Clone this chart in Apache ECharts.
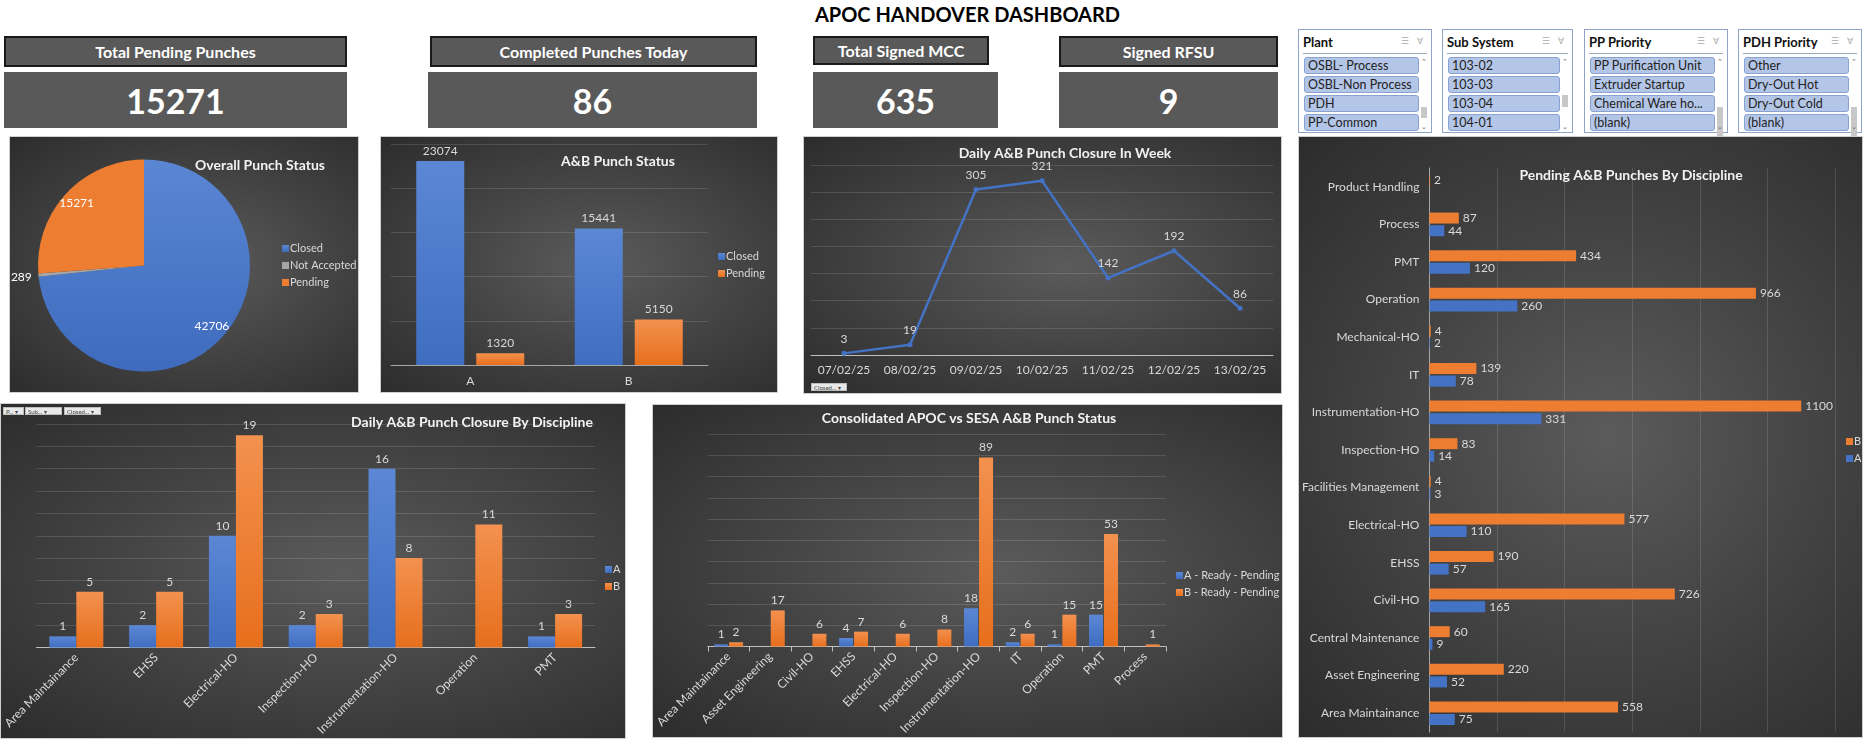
<!DOCTYPE html>
<html>
<head>
<meta charset="utf-8" />
<title>APOC HANDOVER DASHBOARD</title>
<script src="https://cdn.jsdelivr.net/npm/echarts@6/dist/echarts.min.js"></script>
<style>
	html, body {
		margin: 0;
		padding: 0;
		background: #fff;
		width: 1873px;
		height: 741px;
		overflow: hidden;
		font-family: Lato, "Open Sans", sans-serif;
	}
	.abs { position: absolute; box-sizing: border-box; }
	.head {
		background: #595959;
		border: 2px solid #1a1a1a;
		color: #fff;
		font-weight: bold;
		font-size: 16px;
		display: flex;
		align-items: center;
		justify-content: center;
	}
	.val {
		background: #595959;
		color: #fff;
		font-weight: bold;
		font-size: 34px;
		display: flex;
		align-items: center;
		justify-content: center;
	}
	.panel {
		position: absolute;
		box-sizing: border-box;
		background: radial-gradient(ellipse at 55% 50%, #5b5b5b 0%, #454545 45%, #2c2c2c 100%);
		border: 1px solid #cfcfcf;
	}
	.slicer {
		position: absolute;
		box-sizing: border-box;
		border: 1px solid #8ea4c4;
		background: #fff;
	}
	.slicer .ttl {
		position: absolute; left: 4px; top: 4px;
		font-weight: bold; font-size: 13px; color: #111;
	}
	.slicer .ico {
		position: absolute; right: 5px; top: 5px;
		font-size: 9px; color: #aaa; letter-spacing: 3px;
	}
	.slicer .sep {
		position: absolute; left: 4px; right: 4px; top: 23px; height: 1px; background: #9aa8bc;
	}
	.slicer .item {
		position: absolute; left: 5px; height: 17px;
		background: #b4c6e7; border: 1px solid #8aa2cf; border-radius: 3px;
		font-size: 12.5px; color: #222; line-height: 15px; padding-left: 3px;
		box-sizing: border-box; white-space: nowrap; overflow: hidden;
	}
	.slicer .bar {
		position: absolute; right: 3px; top: 27px; width: 8px; height: 74px;
		font-size: 7px; color: #666; text-align: center;
	}
	.slicer .thumb { position: absolute; left: 1px; width: 6px; background: #c8c8c8; }
	.btn {
		position: absolute; height: 8px; background: #e8e8e8; border: 1px solid #bdbdbd;
		font-size: 6px; line-height: 7px; color: #444; padding-left: 2px; box-sizing: border-box;
	}
</style>
</head>
<body>
<div class="abs" style="left:0;top:2px;width:1935px;text-align:center;font-weight:bold;font-size:20px;color:#000;">APOC HANDOVER DASHBOARD</div>

<div id="kpis"></div>
<div id="slicers"></div>

<div class="panel" id="pie" style="left:9px;top:136px;width:350px;height:257px;"></div>
<div class="panel" id="ab" style="left:380px;top:136px;width:398px;height:257px;"></div>
<div class="panel" id="week" style="left:803px;top:136px;width:479px;height:258px;"></div>
<div class="panel" id="pend" style="left:1298px;top:136px;width:565px;height:602px;"></div>
<div class="panel" id="daily" style="left:0px;top:403px;width:626px;height:336px;"></div>
<div class="panel" id="cons" style="left:652px;top:404px;width:631px;height:334px;"></div>

<div class="btn" style="left:811px;top:383px;width:36px;">Closed... ▾</div>
<div class="btn" style="left:3px;top:407px;width:21px;">P... ▾</div>
<div class="btn" style="left:25px;top:407px;width:37px;">Sub... ▾</div>
<div class="btn" style="left:64px;top:407px;width:37px;">Closed... ▾</div>

<script>
// ---- data ----
var kpiLabels = ['Total Pending Punches', 'Completed Punches Today', 'Total Signed MCC', 'Signed RFSU'];
var kpiValues = [15271, 86, 635, 9];

var slicerTitles = ['Plant', 'Sub System', 'PP Priority', 'PDH Priority'];
var plantItems = ['OSBL- Process', 'OSBL-Non Process', 'PDH', 'PP-Common'];
var subSystemItems = ['103-02', '103-03', '103-04', '104-01'];
var ppPriorityItems = ['PP Purification Unit', 'Extruder Startup', 'Chemical Ware ho...', '(blank)'];
var pdhPriorityItems = ['Other', 'Dry-Out Hot', 'Dry-Out Cold', '(blank)'];

var pieNames = ['Closed', 'Not Accepted', 'Pending'];
var pieValues = [42706, 289, 15271];

var abCats = ['A', 'B'];
var abClosed = [23074, 15441];
var abPending = [1320, 5150];

var weekDays = ['07/02/25', '08/02/25', '09/02/25', '10/02/25', '11/02/25', '12/02/25', '13/02/25'];
var weekClosed = [3, 19, 305, 321, 142, 192, 86];

var pendCats = ['Area Maintainance', 'Asset Engineering', 'Central Maintenance', 'Civil-HO', 'EHSS',
	'Electrical-HO', 'Facilities Management', 'Inspection-HO', 'Instrumentation-HO', 'IT',
	'Mechanical-HO', 'Operation', 'PMT', 'Process', 'Product Handling'];
var pendA = [75, 52, 9, 165, 57, 110, 3, 14, 331, 78, 2, 260, 120, 44, null];
var pendB = [558, 220, 60, 726, 190, 577, 4, 83, 1100, 139, 4, 966, 434, 87, 2];

var dailyCats = ['Area Maintainance', 'EHSS', 'Electrical-HO', 'Inspection-HO', 'Instrumentation-HO', 'Operation', 'PMT'];
var dailyA = [1, 2, 10, 2, 16, null, 1];
var dailyB = [5, 5, 19, 3, 8, 11, 3];

var consCats = ['Area Maintainance', 'Asset Engineering', 'Civil-HO', 'EHSS', 'Electrical-HO', 'Inspection-HO',
	'Instrumentation-HO', 'IT', 'Operation', 'PMT', 'Process'];
var consA = [1, null, null, 4, null, null, 18, 2, 1, 15, null];
var consB = [2, 17, 6, 7, 6, 8, 89, 6, 15, 53, 1];

// ---- kpi cards ----
var kpiBoxes = [
	{ h: [4, 343, 31], v: [4, 343] },
	{ h: [430, 327, 31], v: [428, 329] },
	{ h: [813, 176, 29], v: [813, 185] },
	{ h: [1059, 219, 31], v: [1059, 219] }
];
var kpiHtml = '';
kpiBoxes.forEach(function (b, i) {
	kpiHtml += '<div class="abs head" style="left:' + b.h[0] + 'px;top:36px;width:' + b.h[1] + 'px;height:' + b.h[2] + 'px;">' + kpiLabels[i] + '</div>';
	kpiHtml += '<div class="abs val" style="left:' + b.v[0] + 'px;top:72px;width:' + b.v[1] + 'px;height:56px;">' + kpiValues[i] + '</div>';
});
document.getElementById('kpis').innerHTML = kpiHtml;

// ---- slicers ----
var slicerBoxes = [[1298, 134, 77, 11], [1442, 131, 65, 12], [1584, 144, 77, 30], [1738, 124, 77, 31]];
var slicerItems = [plantItems, subSystemItems, ppPriorityItems, pdhPriorityItems];
var sHtml = '';
slicerBoxes.forEach(function (b, i) {
	sHtml += '<div class="slicer" style="left:' + b[0] + 'px;top:29px;width:' + b[1] + 'px;height:104px;">';
	sHtml += '<div class="ttl">' + slicerTitles[i] + '</div><div class="ico">&#9776; &#8704;</div><div class="sep"></div>';
	slicerItems[i].forEach(function (t, j) {
		sHtml += '<div class="item" style="top:' + (27 + j * 19) + 'px;width:' + (b[1] - 19) + 'px;">' + t + '</div>';
	});
	sHtml += '<div class="bar"><div style="position:absolute;top:0;width:8px;">&#8963;</div>' +
		'<div class="thumb" style="top:' + (b[2] - 77 + 50) + 'px;height:' + b[3] + 'px;"></div>' +
		'<div style="position:absolute;bottom:0;width:8px;">&#8964;</div></div>';
	sHtml += '</div>';
});
document.getElementById('slicers').innerHTML = sHtml;

// ---- shared styles ----
var FONT = 'Lato, "Open Sans", sans-serif';
var LBL = '#d9d9d9';
var GRIDLINE = { lineStyle: { color: 'rgba(255,255,255,0.13)', width: 1 } };
var BLUE = new echarts.graphic.LinearGradient(0, 0, 0, 1, [{ offset: 0, color: '#5b87d5' }, { offset: 1, color: '#3f6dc0' }]);
var ORANGE = new echarts.graphic.LinearGradient(0, 0, 0, 1, [{ offset: 0, color: '#f3914f' }, { offset: 1, color: '#e76f1c' }]);

function titleText(text, x, y) {
	return {
		type: 'text', x: x, y: y, silent: true,
		style: { text: text, fill: '#f2f2f2', font: 'bold 14px ' + FONT, textAlign: 'center', textVerticalAlign: 'middle' }
	};
}
function legendAt(left, top, names, gap) {
	return {
		orient: 'vertical', left: left, top: top, data: names, icon: 'rect',
		itemWidth: 7, itemHeight: 7, itemGap: gap, padding: 0,
		textStyle: { color: LBL, fontSize: 11, fontFamily: FONT, padding: [0, 0, 0, -4] }
	};
}
function barLabel(pos) {
	return { show: true, position: pos, color: LBL, fontSize: 12, fontFamily: FONT, distance: 4 };
}

// ---- Overall Punch Status ----
var pieCx = 134, pieCy = 128.5;
var pieLabelPush = [1.63, 2.2, 1.64];
var pieChart = echarts.init(document.getElementById('pie'));
pieChart.setOption({
	textStyle: { fontFamily: FONT },
	graphic: [titleText('Overall Punch Status', 250, 28)],
	legend: legendAt(272, 106, pieNames, 6),
	color: [new echarts.graphic.LinearGradient(0, 0, 0, 1, [{ offset: 0, color: '#5a86d4' }, { offset: 1, color: '#3e6bbd' }]), '#a5a5a5', '#ed7d31'],
	series: [{
		type: 'pie',
		center: [pieCx, pieCy],
		radius: 106,
		startAngle: 90,
		label: { show: true, position: 'inside', color: '#fff', fontSize: 12, fontFamily: FONT },
		labelLine: { show: false },
		labelLayout: function (p) {
			var k = pieLabelPush[p.dataIndex];
			var cx = p.labelRect.x + p.labelRect.width / 2;
			var cy = p.labelRect.y + p.labelRect.height / 2;
			return { dx: (cx - pieCx) * (k - 1), dy: (cy - pieCy) * (k - 1) };
		},
		emphasis: { disabled: true },
		data: pieNames.map(function (n, i) { return { name: n, value: pieValues[i], label: { formatter: '{c}' } }; })
	}]
});

// ---- A&B Punch Status ----
var abChart = echarts.init(document.getElementById('ab'));
abChart.setOption({
	textStyle: { fontFamily: FONT },
	graphic: [titleText('A&B Punch Status', 237, 24)],
	legend: legendAt(337, 114, ['Closed', 'Pending'], 6),
	grid: { left: 10, top: 7, width: 317, bottom: 27 },
	xAxis: {
		type: 'category', data: abCats,
		axisLine: { lineStyle: { color: '#a6a6a6' } }, axisTick: { show: false },
		axisLabel: { color: LBL, fontSize: 12, margin: 10 }
	},
	yAxis: { type: 'value', min: 0, max: 25000, interval: 5000, axisLabel: { show: false }, axisLine: { show: false }, splitLine: GRIDLINE },
	series: [
		{ name: 'Closed', type: 'bar', data: abClosed, barWidth: 48, barGap: '25%', itemStyle: { color: BLUE }, label: barLabel('top') },
		{ name: 'Pending', type: 'bar', data: abPending, barWidth: 48, itemStyle: { color: ORANGE }, label: barLabel('top') }
	]
});

// ---- Daily A&B Punch Closure In Week ----
var weekChart = echarts.init(document.getElementById('week'));
weekChart.setOption({
	textStyle: { fontFamily: FONT },
	graphic: [titleText('Daily A&B Punch Closure In Week', 261, 16)],
	grid: { left: 7, top: 28, width: 462, bottom: 38 },
	xAxis: {
		type: 'category', data: weekDays,
		axisLine: { lineStyle: { color: '#bfbfbf' } }, axisTick: { show: false },
		axisLabel: { color: LBL, fontSize: 12, margin: 9, interval: 0 }
	},
	yAxis: { type: 'value', min: 0, max: 350, interval: 50, axisLabel: { show: false }, splitLine: GRIDLINE },
	series: [{
		type: 'line', data: weekClosed, symbol: 'circle', symbolSize: 5,
		lineStyle: { color: '#4472c4', width: 2.5 }, itemStyle: { color: '#4472c4' },
		label: { show: true, position: 'top', color: LBL, fontSize: 12, distance: 6 }
	}]
});

// ---- Pending A&B Punches By Discipline ----
// in a horizontal bar chart the first series sits on top, so B goes first
var pendChart = echarts.init(document.getElementById('pend'));
pendChart.setOption({
	textStyle: { fontFamily: FONT },
	graphic: [titleText('Pending A&B Punches By Discipline', 332, 38)],
	legend: legendAt(547, 299, ['B', 'A'], 6),
	grid: { left: 120, top: 31, width: 416, bottom: 5 },
	xAxis: { type: 'value', min: 0, max: 1200, interval: 200, axisLabel: { show: false }, splitLine: GRIDLINE },
	yAxis: {
		type: 'category', data: pendCats,
		axisLine: { lineStyle: { color: '#a6a6a6' } }, axisTick: { show: false },
		axisLabel: { color: LBL, fontSize: 12, margin: 10 }
	},
	series: [
		{ name: 'B', type: 'bar', data: pendB, barWidth: 11, barGap: '15%', itemStyle: { color: '#ed7d31' }, label: barLabel('right') },
		{ name: 'A', type: 'bar', data: pendA, barWidth: 11, itemStyle: { color: '#4472c4' }, label: barLabel('right') }
	]
});

// ---- Daily A&B Punch Closure By Discipline ----
var dailyChart = echarts.init(document.getElementById('daily'));
dailyChart.setOption({
	textStyle: { fontFamily: FONT },
	graphic: [titleText('Daily A&B Punch Closure By Discipline', 471, 18)],
	legend: legendAt(604, 160, ['A', 'B'], 6),
	grid: { left: 26, top: 20, width: 568, bottom: 86 },
	xAxis: {
		type: 'category', data: dailyCats,
		axisLine: { lineStyle: { color: '#bfbfbf' } }, axisTick: { show: false },
		axisLabel: { color: LBL, fontSize: 12, rotate: 45, interval: 0, margin: 8 }
	},
	yAxis: { type: 'value', min: 0, max: 20, interval: 2, axisLabel: { show: false }, splitLine: GRIDLINE },
	series: [
		{ name: 'A', type: 'bar', data: dailyA, barWidth: 27, barGap: '0%', itemStyle: { color: BLUE }, label: barLabel('top') },
		{ name: 'B', type: 'bar', data: dailyB, barWidth: 27, itemStyle: { color: ORANGE }, label: barLabel('top') }
	]
});

// ---- Consolidated APOC vs SESA A&B Punch Status ----
var consChart = echarts.init(document.getElementById('cons'));
consChart.setOption({
	textStyle: { fontFamily: FONT },
	graphic: [titleText('Consolidated APOC vs SESA A&B Punch Status', 316, 13)],
	legend: legendAt(523, 165, ['A - Ready - Pending', 'B - Ready - Pending'], 6),
	grid: { left: 46, top: 29, width: 467, bottom: 85 },
	xAxis: {
		type: 'category', data: consCats,
		axisLine: { lineStyle: { color: '#bfbfbf' } },
		axisTick: { show: true, length: 5, lineStyle: { color: '#bfbfbf' } },
		axisLabel: { color: LBL, fontSize: 12, rotate: 45, interval: 0, margin: 8 }
	},
	yAxis: { type: 'value', min: 0, max: 100, interval: 10, axisLabel: { show: false }, splitLine: GRIDLINE },
	series: [
		{ name: 'A - Ready - Pending', type: 'bar', data: consA, barWidth: 14, barGap: '7%', itemStyle: { color: BLUE }, label: barLabel('top') },
		{ name: 'B - Ready - Pending', type: 'bar', data: consB, barWidth: 14, itemStyle: { color: ORANGE }, label: barLabel('top') }
	]
});
</script>
</body>
</html>
